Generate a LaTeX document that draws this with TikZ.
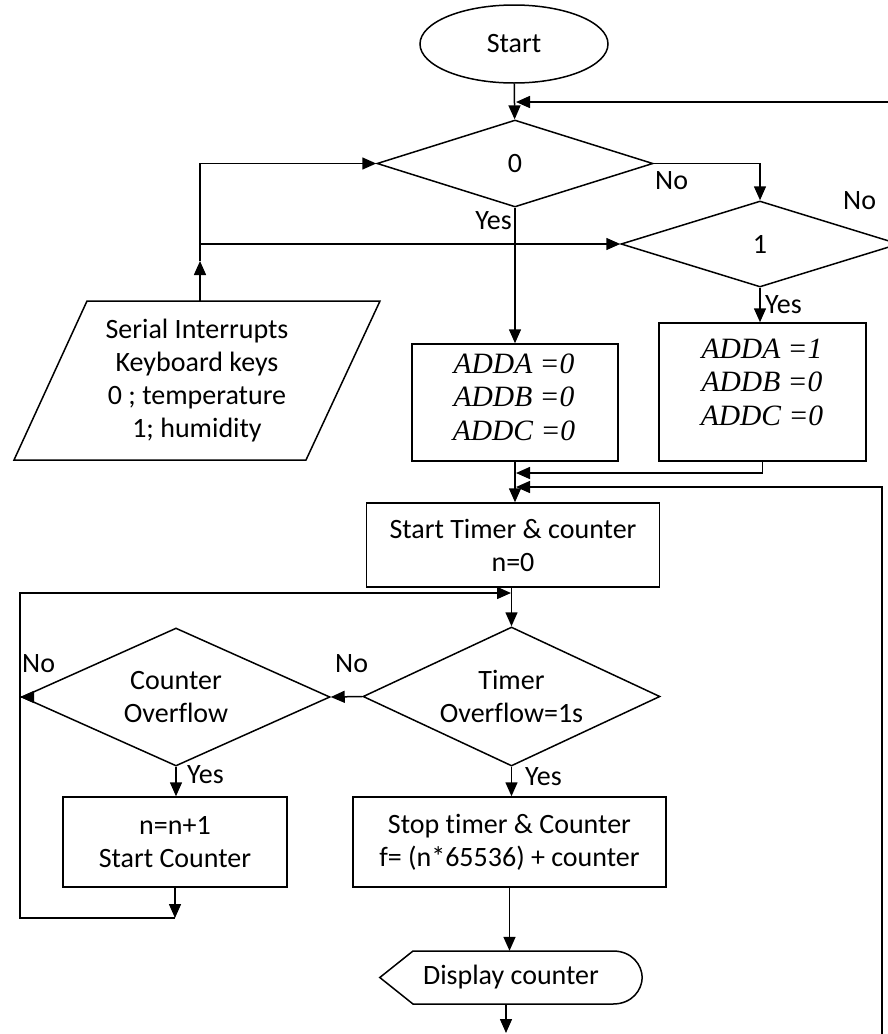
\documentclass[tikz,border=0pt]{standalone}
\usepackage{fontspec}
\setmainfont[Ligatures={NoCommon}]{Carlito}
\newfontfamily\tnrfont{Liberation Serif}
\usetikzlibrary{shapes.geometric,arrows.meta}
\begin{document}
\begin{tikzpicture}[x=1pt,y=1pt,
  every node/.style={font=\fontsize{28}{33}\selectfont},
  ln/.style={line width=1.5pt},
  arr/.style={ln,-{Triangle[length=14pt,width=12pt]}},
  procbox/.style={draw,line width=1.5pt,rectangle,inner sep=0pt,align=center},
  dec/.style={draw,line width=1.5pt,diamond,inner sep=0pt,align=center,shape aspect=2.1},
  term/.style={draw,line width=1.5pt,ellipse,inner sep=0pt},
  lbl/.style={inner sep=0pt,align=center},
  eqtext/.style={inner sep=0pt,align=center,font=\tnrfont\itshape\fontsize{29.5}{33.5}\selectfont}
]
\useasboundingbox (0,0) rectangle (888,-1034);
\clip (0,0) rectangle (888,-1034);

% nodes
\node[term,minimum width=188pt,minimum height=78pt] (start) at (514,-44) {Start};
\node[dec,minimum width=276pt,minimum height=87pt] (d0) at (515,-163.5) {0};
\node[dec,minimum width=278pt,minimum height=86pt] (d1) at (760,-244) {1};
\node[procbox,minimum width=206pt,minimum height=117pt] (boxA) at (515,-402.5) {};
\node[eqtext] (txtA) at (514,-397) {ADDA =0\\ADDB =0\\ADDC =0};
\node[procbox,minimum width=207pt,minimum height=138pt] (boxB) at (762.5,-392) {};
\node[eqtext] (txtB) at (762,-382) {ADDA =1\\ADDB =0\\ADDC =0};

\draw[ln] (87,-301) -- (380,-301) -- (306,-460) -- (14,-460) -- cycle;
\node[lbl] (inp) at (197,-381) {Serial Interrupts\\Keyboard keys\\0 ; temperature\\1; humidity};

\node[procbox,minimum width=293pt,minimum height=84pt] (tstart) at (513,-545) {Start Timer \& counter\\n=0};
\node[dec,minimum width=297pt,minimum height=139pt] (timer) at (511.5,-696.5) {Timer\\Overflow=1s};
\node[dec,minimum width=308pt,minimum height=138pt] (counter) at (176,-697) {Counter\\Overflow};
\node[procbox,minimum width=224pt,minimum height=90pt] (nbox) at (175,-842) {n=n+1\\Start Counter};
\node[procbox,minimum width=313pt,minimum height=90pt] (stop) at (509.5,-842) {Stop timer \& Counter\\f= (n*65536) + counter};

\node[lbl,minimum width=262pt,minimum height=53pt] (disp) at (511,-977.5) {Display counter};
\draw[ln] (disp.west) -- (413,-951) -- (613,-951)
  .. controls (632,-951) and (642,-965) .. (disp.east)
  .. controls (642,-990) and (632,-1004) .. (613,-1004) -- (413,-1004) -- cycle;

% labels
\node[lbl,anchor=base west] (no0) at (655,-189) {No};
\node[lbl,anchor=base west] (no1) at (843,-209) {No};
\node[lbl,anchor=base east] (yes0) at (512,-229) {Yes};
\node[lbl,anchor=base west] (yes1) at (765,-313) {Yes};
\node[lbl,anchor=base west] (noC) at (22,-672) {No};
\node[lbl,anchor=base west] (noT) at (335,-672) {No};
\node[lbl,anchor=base west] (yesC) at (187,-783) {Yes};
\node[lbl,anchor=base west] (yesT) at (525,-785) {Yes};

% coordinates
\coordinate (fbR) at (888,-102);
\coordinate (fbL) at (516,-102);
\coordinate (inpTop) at (200,-301);
\coordinate (inpMid) at (200,-261);
\coordinate (brY) at (200,-244);
\coordinate (mA) at (516,-473);
\coordinate (rBot) at (882,-1040);
\coordinate (rIn) at (516,-487);
\coordinate (lpBot) at (175,-918);
\coordinate (lpBL) at (20,-918);
\coordinate (lpTL) at (20,-593);
\coordinate (lpIn) at (511,-593);
\coordinate (dOut) at (506,-1033);

% connectors
\draw[arr] (start) -- (d0);
\draw[arr] (fbR) -- (fbL);
\draw[arr] (d0.east) -| (d1.north);
\draw[arr] (d0.south) -- (boxA.north);
\draw[arr] (d1.south) -- (d1.south |- boxB.north);
\draw[arr] (inpTop) -- (inpMid);
\draw[arr] (inpMid) |- (d0.west);
\draw[arr] (brY) -- (d1.west);
\draw[arr] (boxB.south) |- (mA);
\draw[arr] (rBot) |- (rIn);
\draw[arr] (boxA.south) -- (boxA.south |- tstart.north);
\draw[arr] (tstart.south -| timer.north) -- (timer.north);
\draw[arr] (nbox.south) -- (lpBot);
\draw[arr] (lpBot) -- (lpBL) -- (lpTL) -- (lpIn);
\draw[arr] (counter.west) -- (counter.west -| lpTL);
\draw[arr] (timer.west) -- (counter.east);
\draw[arr] (counter.south) -- (counter.south |- nbox.north);
\draw[arr] (timer.south) -- (timer.south |- stop.north);
\draw[arr] (stop.south) -- (stop.south |- disp.north);
\draw[arr] (disp.south -| dOut) -- (dOut);
\end{tikzpicture}
\end{document}
